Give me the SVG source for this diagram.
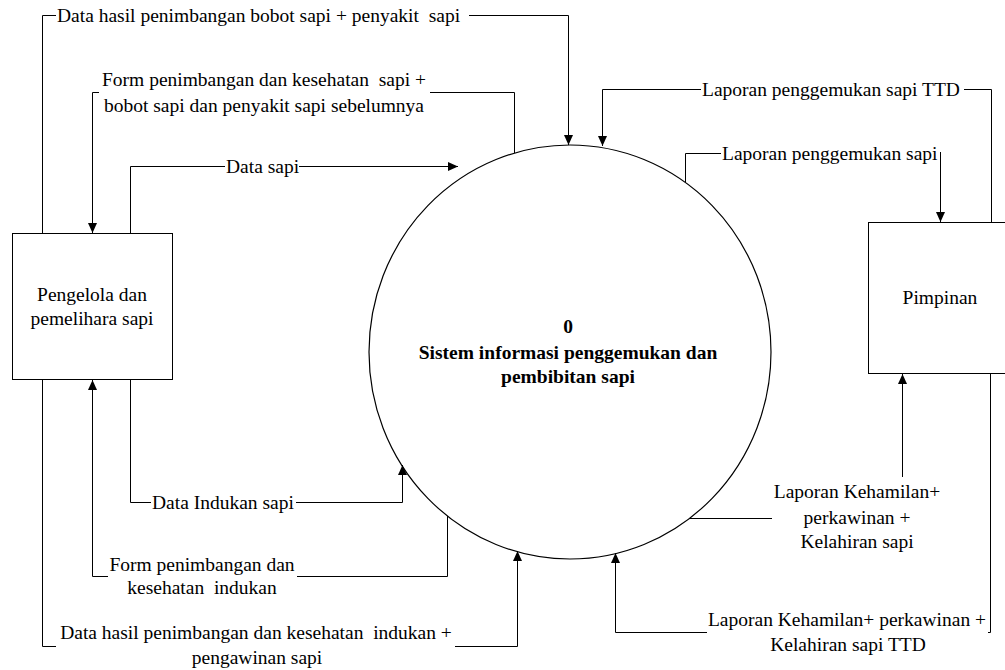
<svg xmlns="http://www.w3.org/2000/svg" width="1005" height="670" viewBox="0 0 1005 670">
  <style>
    .bg { fill: #ffffff; }
    .box { fill: #ffffff; stroke: #000000; stroke-width: 1; }
    .proc { fill: #ffffff; stroke: #000000; stroke-width: 1.2; }
    .flow { fill: none; stroke: #000000; stroke-width: 1; }
    .mid { text-anchor: middle; }
    text { white-space: pre; }
  </style>
  <defs>
    <marker id="arrow" markerUnits="userSpaceOnUse" markerWidth="10" markerHeight="9" refX="10" refY="4.5" orient="auto">
      <path d="M0,0 L10,4.5 L0,9 z" fill="#000000"/>
    </marker>
  </defs>

  <rect class="bg" x="0" y="0" width="1005" height="670"/>

  <g font-family="Liberation Serif, Times New Roman, serif" font-size="19.5" fill="#000000">

  <!-- external entity: Pengelola dan pemelihara sapi -->
  <g id="pengelola">
    <rect class="box" x="12.5" y="233.5" width="160" height="146"/>
    <text class="mid" x="92" y="301">Pengelola dan</text>
    <text class="mid" x="92" y="325">pemelihara sapi</text>
  </g>

  <!-- external entity: Pimpinan -->
  <g id="pimpinan">
    <rect class="box" x="868.5" y="222.5" width="150" height="151"/>
    <text class="mid" x="940" y="304">Pimpinan</text>
  </g>

  <!-- process 0 -->
  <g id="proses0">
    <ellipse class="proc" cx="570" cy="352" rx="201" ry="207"/>
    <g font-weight="bold">
      <text class="mid" x="568" y="333">0</text>
      <text class="mid" x="568" y="359">Sistem informasi penggemukan dan</text>
      <text class="mid" x="568" y="383">pembibitan sapi</text>
    </g>
  </g>

  <!-- data flows -->
  <g id="connectors">
    <!-- Data hasil penimbangan bobot sapi + penyakit sapi -->
    <path class="flow" d="M42.5,233.5 V15.5 H56"/>
    <path class="flow" d="M469,15.5 H568.5 V145" marker-end="url(#arrow)"/>
    <text x="57" y="22" xml:space="preserve">Data hasil penimbangan bobot sapi + penyakit  sapi</text>

    <!-- Form penimbangan dan kesehatan sapi -->
    <path class="flow" d="M514.5,153 V92.5 H430"/>
    <path class="flow" d="M99,92.5 H92.5 V233" marker-end="url(#arrow)"/>
    <text class="mid" x="264" y="86" xml:space="preserve">Form penimbangan dan kesehatan  sapi +</text>
    <text class="mid" x="264" y="112">bobot sapi dan penyakit sapi sebelumnya</text>

    <!-- Data sapi -->
    <path class="flow" d="M130.5,233.5 V166.5 H225"/>
    <path class="flow" d="M299,166.5 H458" marker-end="url(#arrow)"/>
    <text x="226" y="173">Data sapi</text>

    <!-- Data Indukan sapi -->
    <path class="flow" d="M130.5,379.5 V502.5 H151"/>
    <path class="flow" d="M296,502.5 H402.5 V465" marker-end="url(#arrow)"/>
    <text x="152" y="509">Data Indukan sapi</text>

    <!-- Form penimbangan dan kesehatan indukan -->
    <path class="flow" d="M447.5,516 V576.5 H297"/>
    <path class="flow" d="M108,576.5 H92.5 V380" marker-end="url(#arrow)"/>
    <text class="mid" x="202" y="571">Form penimbangan dan</text>
    <text class="mid" x="202" y="594" xml:space="preserve">kesehatan  indukan</text>

    <!-- Data hasil penimbangan dan kesehatan indukan + pengawinan sapi -->
    <path class="flow" d="M42.5,379.5 V646.5 H56"/>
    <path class="flow" d="M455,646.5 H517.5 V551" marker-end="url(#arrow)"/>
    <text class="mid" x="256" y="639" xml:space="preserve">Data hasil penimbangan dan kesehatan  indukan +</text>
    <text class="mid" x="257" y="664">pengawinan sapi</text>

    <!-- Laporan penggemukan sapi TTD -->
    <path class="flow" d="M991.5,222.5 V89.5 H964"/>
    <path class="flow" d="M701,89.5 H602.5 V146" marker-end="url(#arrow)"/>
    <text x="702" y="96">Laporan penggemukan sapi TTD</text>

    <!-- Laporan penggemukan sapi -->
    <path class="flow" d="M685.5,182 V153.5 H721"/>
    <path class="flow" d="M940.5,152 V222" marker-end="url(#arrow)"/>
    <text x="722" y="160">Laporan penggemukan sapi</text>

    <!-- Laporan Kehamilan + perkawinan + Kelahiran sapi -->
    <path class="flow" d="M690,518.5 H772"/>
    <path class="flow" d="M902.5,477 V374" marker-end="url(#arrow)"/>
    <text class="mid" x="857" y="498">Laporan Kehamilan+</text>
    <text class="mid" x="857" y="524">perkawinan +</text>
    <text class="mid" x="857" y="548">Kelahiran sapi</text>

    <!-- Laporan Kehamilan + perkawinan + Kelahiran sapi TTD -->
    <path class="flow" d="M990.5,373.5 V632.5 H988"/>
    <path class="flow" d="M707,632.5 H615.5 V553" marker-end="url(#arrow)"/>
    <text class="mid" x="847" y="626">Laporan Kehamilan+ perkawinan +</text>
    <text class="mid" x="848" y="651">Kelahiran sapi TTD</text>
  </g>

  </g>
</svg>
